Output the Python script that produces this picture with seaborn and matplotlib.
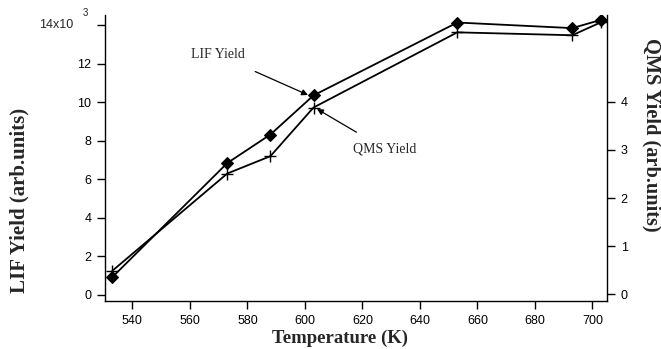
import matplotlib
matplotlib.use("Agg")
import matplotlib.pyplot as plt
import matplotlib.transforms as mtransforms
import seaborn as sns
import pandas as pd

# Data
temperature = [533, 573, 588, 603, 653, 693, 703]
lif_yield = [920, 6840, 8320, 10350, 14130, 13840, 14270]
qms_yield = [0.49, 2.51, 2.87, 3.88, 5.44, 5.38, 5.65]

x_ticks = [540, 560, 580, 600, 620, 640, 660, 680, 700]
lif_ticks = [0, 2000, 4000, 6000, 8000, 10000, 12000, 14000]
lif_tick_labels = ["0", "2", "4", "6", "8", "10", "12", "14x10"]
qms_ticks = [0, 1, 2, 3, 4]

df = pd.DataFrame({"T": temperature, "LIF": lif_yield, "QMS": qms_yield})

sns.set_style("ticks")
plt.rcParams["font.family"] = ["Liberation Sans", "DejaVu Sans"]

fig = plt.figure(figsize=(6.61, 3.49), dpi=100)
ax = fig.add_axes([0.159, 0.1384, 0.759, 0.8186])
ax2 = ax.twinx()

sns.lineplot(data=df, x="T", y="LIF", ax=ax, color="black", linewidth=1.3,
             marker="D", markersize=6, markeredgecolor="black",
             markerfacecolor="black")
sns.lineplot(data=df, x="T", y="QMS", ax=ax2, color="black", linewidth=1.3,
             marker="+", markersize=8, markeredgewidth=1.0,
             markeredgecolor="black")

ax.set_xlim(530.5, 705)
ax.set_ylim(-300, 14520)
ax2.set_ylim(-0.13, 5.8)

ax.set_xticks(x_ticks)
ax.set_xticklabels([str(t) for t in x_ticks])
ax.set_yticks(lif_ticks)
labels = list(lif_tick_labels)
labels[-1] = ""
ax.set_yticklabels(labels)
ax2.set_yticks(qms_ticks)
ax2.set_yticklabels([str(t) for t in qms_ticks])

for a in (ax, ax2):
    a.tick_params(axis="both", direction="out", length=6, width=1.0,
                  labelsize=9, pad=4, color="black", labelcolor="black")
    a.spines["top"].set_visible(False)
    for s in a.spines.values():
        s.set_color("black")
        s.set_linewidth(1.0)
ax.spines["right"].set_visible(False)
ax2.spines["left"].set_visible(False)
ax2.spines["bottom"].set_visible(False)
ax2.spines["right"].set_visible(True)

# top-left multiplier label
trans = mtransforms.blended_transform_factory(ax.transAxes, ax.transData)
ax.text(-0.064, 14000, lif_tick_labels[-1], transform=trans, ha="right",
        va="center", fontsize=9)
ax.text(-0.04, 14630, "3", transform=trans, ha="center", va="center",
        fontsize=7)

serif = ["Liberation Serif", "DejaVu Serif"]
ax.set_xlabel("Temperature (K)", fontsize=13.5, fontweight="bold",
              family=serif, va="center")
ax.xaxis.set_label_coords(0.468, -0.131)
ax.set_ylabel("LIF Yield (arb.units)", fontsize=15, fontweight="bold",
              family=serif, va="center")
ax.yaxis.set_label_coords(-0.171, 0.352)
ax2.set_ylabel("QMS Yield (arb.units)", fontsize=14.7, fontweight="bold",
               family=serif, rotation=270, va="center")
ax2.yaxis.set_label_coords(1.090, 0.580)

# annotations (positions in figure pixels -> figure fraction)
W, H = 661.0, 349.0
def fp(x, y):
    return (x / W, 1 - y / H)

ax.annotate("LIF Yield", xy=fp(308, 95), xycoords="figure fraction",
            xytext=fp(218, 55), textcoords="figure fraction",
            ha="center", va="center", fontsize=10, family=serif,
            arrowprops=dict(arrowstyle="-|>", color="black", lw=0.9,
                            shrinkA=12, shrinkB=0, mutation_scale=9))
ax.annotate("QMS Yield", xy=fp(317, 109), xycoords="figure fraction",
            xytext=fp(385, 149), textcoords="figure fraction",
            ha="center", va="center", fontsize=10, family=serif,
            arrowprops=dict(arrowstyle="-|>", color="black", lw=0.9,
                            shrinkA=10, shrinkB=0, mutation_scale=9))

ax.set_zorder(ax2.get_zorder() + 1)
ax.patch.set_visible(False)

fig.savefig("out.png", dpi=100)
